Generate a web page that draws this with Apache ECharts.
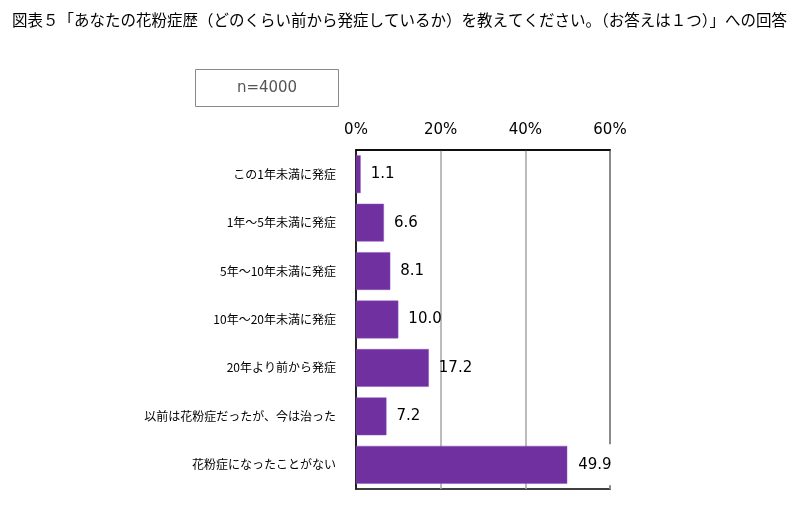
<!DOCTYPE html>
<html>
<head>
<meta charset="utf-8">
<script src="https://cdn.jsdelivr.net/npm/echarts@6/dist/echarts.min.js"></script>
<style>
html,body{margin:0;padding:0;background:#fff;}
#main{width:810px;height:530px;}
</style>
</head>
<body>
<div id="main"></div>
<script>
const titleText = '図表５「あなたの花粉症歴（どのくらい前から発症しているか）を教えてください。（お答えは１つ）」への回答';
const sampleNote = 'n=4000';
const categories = [
  'この1年未満に発症',
  '1年～5年未満に発症',
  '5年～10年未満に発症',
  '10年～20年未満に発症',
  '20年より前から発症',
  '以前は花粉症だったが、今は治った',
  '花粉症になったことがない'
];
const values = [1.1, 6.6, 8.1, 10.0, 17.2, 7.2, 49.9];
const xTicks = [0, 20, 40, 60];

const chart = echarts.init(document.getElementById('main'), null, {renderer: 'canvas'});
const lastIdx = values.length - 1;
const seriesData = values.map((v, i) => i === lastIdx
  ? {value: v, label: {backgroundColor: '#fff', padding: [13, 1, 13, 1]}}
  : v);

chart.setOption({
  animation: false,
  backgroundColor: '#fff',
  title: {
    text: titleText,
    left: 7,
    top: 7,
    textStyle: {fontFamily: 'Noto Sans CJK JP', fontSize: 15.5, fontWeight: 'normal', color: '#000'}
  },
  graphic: [{
    type: 'group',
    left: 195,
    top: 69,
    children: [
      {type: 'rect', shape: {x: 0, y: 0, width: 143, height: 37}, style: {fill: '#fff', stroke: '#888', lineWidth: 1}},
      {type: 'text', x: 71.5, y: 18.5, style: {text: sampleNote, fill: '#555', font: '15px "DejaVu Sans"', align: 'center', verticalAlign: 'middle'}}
    ]
  }],
  grid: {
    left: 356, right: 200, top: 150, bottom: 41,
    show: true, borderColor: '#000', borderWidth: 1.5, backgroundColor: 'transparent'
  },
  xAxis: {
    type: 'value',
    position: 'top',
    min: xTicks[0],
    max: xTicks[xTicks.length - 1],
    interval: xTicks[1] - xTicks[0],
    axisLine: {show: true, lineStyle: {color: '#000', width: 1.5}},
    axisTick: {show: false},
    splitLine: {show: true, lineStyle: {color: '#a6a6a6', width: 1.5}},
    axisLabel: {formatter: '{value}%', fontFamily: 'DejaVu Sans', fontSize: 15, color: '#000', margin: 12}
  },
  yAxis: {
    type: 'category',
    inverse: true,
    data: categories,
    axisLine: {show: true, lineStyle: {color: '#000', width: 1.5}},
    axisTick: {show: false},
    axisLabel: {fontFamily: 'Noto Sans CJK JP', fontSize: 12, color: '#000', margin: 20}
  },
  series: [{
    type: 'bar',
    data: seriesData,
    barCategoryGap: '22%',
    itemStyle: {color: '#7030a0', borderColor: '#8e55bd', borderWidth: 0.5},
    label: {
      show: true,
      position: 'right',
      distance: 10,
      formatter: p => p.value.toFixed(1),
      fontFamily: 'DejaVu Sans',
      fontSize: 15,
      color: '#000'
    }
  }]
});
</script>
</body>
</html>
